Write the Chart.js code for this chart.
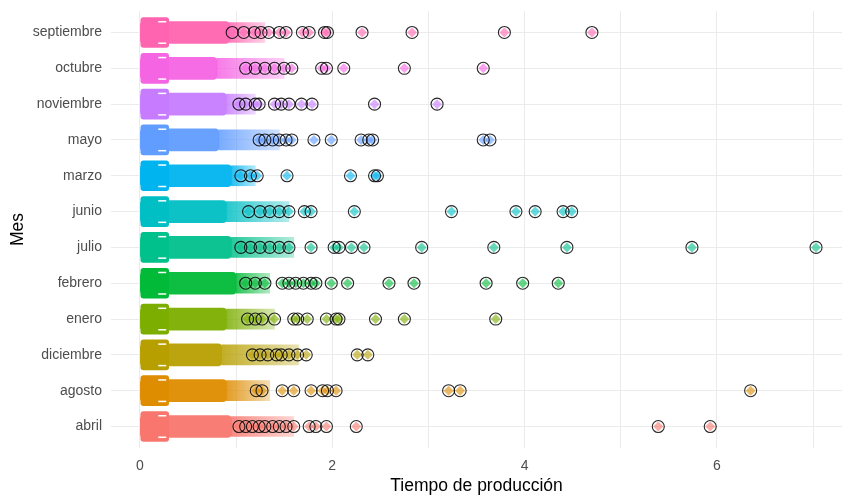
<!DOCTYPE html>
<html>
<head>
<meta charset="utf-8">
<script src="https://cdn.jsdelivr.net/npm/chart.js@4"></script>
<style>
  html, body { margin: 0; padding: 0; background: #fff; }
  #wrap { width: 842px; height: 499px; }
</style>
</head>
<body>
<div id="wrap"><canvas id="grafico" width="842" height="499"></canvas></div>
<script>
// categorias de abajo hacia arriba (orden alfabetico como en ggplot)
const meses = ["abril", "agosto", "diciembre", "enero", "febrero", "julio", "junio", "marzo", "mayo", "noviembre", "octubre", "septiembre"];
const colores = ["#F8766D", "#DE8C00", "#B79F00", "#7CAE00", "#00BA38", "#00C08B", "#00BFC4", "#00B4F0", "#619CFF", "#C77CFF", "#F564E3", "#FF64B0"];

// caja (q1 - q3) y nube densa de puntos
const cajaInicio = [0.01, 0.01, 0.01, 0.01, 0.01, 0.01, 0.01, 0.01, 0.01, 0.01, 0.01, 0.01];
const cajaFin = [0.3, 0.3, 0.3, 0.3, 0.3, 0.3, 0.3, 0.3, 0.3, 0.3, 0.3, 0.3];
const finNube = [0.95, 0.9, 0.85, 0.9, 1.0, 0.95, 0.9, 0.95, 0.82, 0.9, 0.8, 0.93];
const finCola = [1.6, 1.35, 1.65, 1.4, 1.35, 1.6, 1.55, 1.2, 1.45, 1.2, 1.5, 1.3];

// valores atipicos por mes
const atipAbril = [1.03, 1.1, 1.17, 1.24, 1.3, 1.38, 1.45, 1.52, 1.6, 1.76, 1.83, 1.94, 2.25, 5.39, 5.93];
const atipAgosto = [1.21, 1.27, 1.48, 1.6, 1.78, 1.9, 1.95, 2.04, 3.21, 3.33, 6.35];
const atipDiciembre = [1.17, 1.25, 1.33, 1.42, 1.47, 1.55, 1.64, 1.73, 2.26, 2.37];
const atipEnero = [1.12, 1.2, 1.27, 1.4, 1.6, 1.64, 1.74, 1.94, 2.04, 2.07, 2.45, 2.75, 3.7];
const atipFebrero = [1.1, 1.2, 1.3, 1.48, 1.55, 1.62, 1.7, 1.78, 1.83, 1.99, 2.16, 2.59, 2.85, 3.6, 3.98, 4.35];
const atipJulio = [1.05, 1.15, 1.25, 1.35, 1.45, 1.55, 1.78, 2.02, 2.07, 2.2, 2.33, 2.93, 3.68, 4.44, 5.74, 7.03];
const atipJunio = [1.13, 1.25, 1.35, 1.45, 1.55, 1.71, 1.78, 2.23, 3.24, 3.91, 4.11, 4.4, 4.49];
const atipMarzo = [1.05, 1.15, 1.22, 1.53, 2.19, 2.44, 2.47];
const atipMayo = [1.24, 1.3, 1.38, 1.45, 1.52, 1.58, 1.81, 1.99, 2.3, 2.38, 2.42, 3.57, 3.64];
const atipNoviembre = [1.03, 1.1, 1.2, 1.24, 1.4, 1.47, 1.55, 1.68, 1.79, 2.44, 3.09];
const atipOctubre = [1.1, 1.2, 1.3, 1.4, 1.5, 1.58, 1.89, 1.94, 2.12, 2.75, 3.57];
const atipSeptiembre = [0.96, 1.08, 1.19, 1.26, 1.34, 1.45, 1.52, 1.69, 1.76, 1.92, 1.95, 2.31, 2.83, 3.79, 4.7];
const atipicos = [atipAbril, atipAgosto, atipDiciembre, atipEnero, atipFebrero, atipJulio, atipJunio, atipMarzo, atipMayo, atipNoviembre, atipOctubre, atipSeptiembre];

const ticksX = [0, 2, 4, 6];

function alfa(hex, a) {
  const n = parseInt(hex.slice(1), 16);
  return `rgba(${(n >> 16) & 255},${(n >> 8) & 255},${n & 255},${a})`;
}

// degradado horizontal entre dos valores del eje x
function degradado(ctx, desde, hasta, a0, a1) {
  const i = ctx.dataIndex;
  const color = colores[i] || "#888888";
  const ex = ctx.chart.scales.x;
  if (ctx.type !== "data" || !ex) return alfa(color, a0);
  const p0 = ex.getPixelForValue(desde[i]);
  const p1 = ex.getPixelForValue(hasta[i]);
  if (!isFinite(p0) || !isFinite(p1) || p0 === p1) return alfa(color, a0);
  const g = ctx.chart.ctx.createLinearGradient(p0, 0, p1, 0);
  g.addColorStop(0, alfa(color, a0));
  g.addColorStop(1, alfa(color, a1));
  return g;
}

const puntosAtip = [];
const coloresAtip = [];
atipicos.forEach((lista, i) => {
  lista.forEach(v => { puntosAtip.push({ x: v, y: i }); coloresAtip.push(alfa(colores[i], 0.6)); });
});

const fuente = "'Liberation Sans', Arial, sans-serif";

new Chart(document.getElementById("grafico").getContext("2d"), {
  data: {
    datasets: [
      {
        type: "bar", indexAxis: "y", grouped: false,
        data: meses.map((m, i) => ({ y: i, x: [finNube[i], finCola[i]] })),
        backgroundColor: ctx => degradado(ctx, finNube, finCola, 0.85, 0.3),
        barThickness: 20, order: 5
      },
      {
        type: "bar", indexAxis: "y", grouped: false,
        data: meses.map((m, i) => ({ y: i, x: [0, finNube[i]] })),
        backgroundColor: colores.map(c => alfa(c, 0.95)),
        barThickness: 22, borderRadius: 4, borderSkipped: false, order: 4
      },
      {
        type: "bar", indexAxis: "y", grouped: false,
        data: meses.map((m, i) => ({ y: i, x: [cajaInicio[i], cajaFin[i]] })),
        backgroundColor: colores,
        barThickness: 30, borderRadius: 3, borderSkipped: false, order: 3
      },
      {
        type: "scatter",
        data: meses.flatMap((m, i) => [{ x: (cajaInicio[i] + cajaFin[i]) * 0.75, y: i + 0.3 }, { x: (cajaInicio[i] + cajaFin[i]) * 0.75, y: i - 0.3 }]),
        pointStyle: "line", pointRadius: 4, borderColor: "#ffffff", borderWidth: 1.5, order: 2
      },
      {
        type: "scatter",
        data: puntosAtip,
        pointStyle: "rectRot", pointRadius: 5, backgroundColor: coloresAtip, borderWidth: 0, order: 1
      },
      {
        type: "scatter",
        data: puntosAtip,
        pointStyle: "circle", pointRadius: 6, backgroundColor: "rgba(0,0,0,0)", borderColor: "rgba(0,0,0,0.85)", borderWidth: 1.1, order: 0
      }
    ]
  },
  options: {
    responsive: false,
    animation: false,
    layout: { autoPadding: false, padding: { top: 11, right: 0, left: 0, bottom: 0 } },
    plugins: { legend: { display: false }, tooltip: { enabled: false } },
    scales: {
      x: {
        type: "linear", min: -0.3, max: 7.3,
        grid: { color: "#ebebeb", lineWidth: 1, drawTicks: false },
        border: { display: false },
        ticks: {
          stepSize: 1, includeBounds: false, padding: 10,
          color: "#4d4d4d", font: { family: fuente, size: 14 },
          callback: v => ticksX.includes(v) ? String(v) : ""
        },
        title: { display: true, text: "Tiempo de producción", color: "#000", font: { family: fuente, size: 17.5 }, padding: { top: 8, bottom: 2 } },
        afterFit: s => { s.height = 51; s.paddingLeft = 0; s.paddingRight = 0; }
      },
      y: {
        type: "linear", min: -0.6, max: 11.6, offset: false,
        grid: { color: "#ebebeb", lineWidth: 1, drawTicks: false, offset: false },
        border: { display: false },
        ticks: {
          stepSize: 1, includeBounds: false, padding: 9,
          color: "#4d4d4d", font: { family: fuente, size: 14 },
          callback: v => meses[v] || ""
        },
        title: { display: true, text: "Mes", color: "#000", font: { family: fuente, size: 17.5 }, padding: { top: 8 } },
        afterFit: s => { s.width = 111; s.paddingTop = 0; s.paddingBottom = 0; }
      }
    }
  }
});
</script>
</body>
</html>
